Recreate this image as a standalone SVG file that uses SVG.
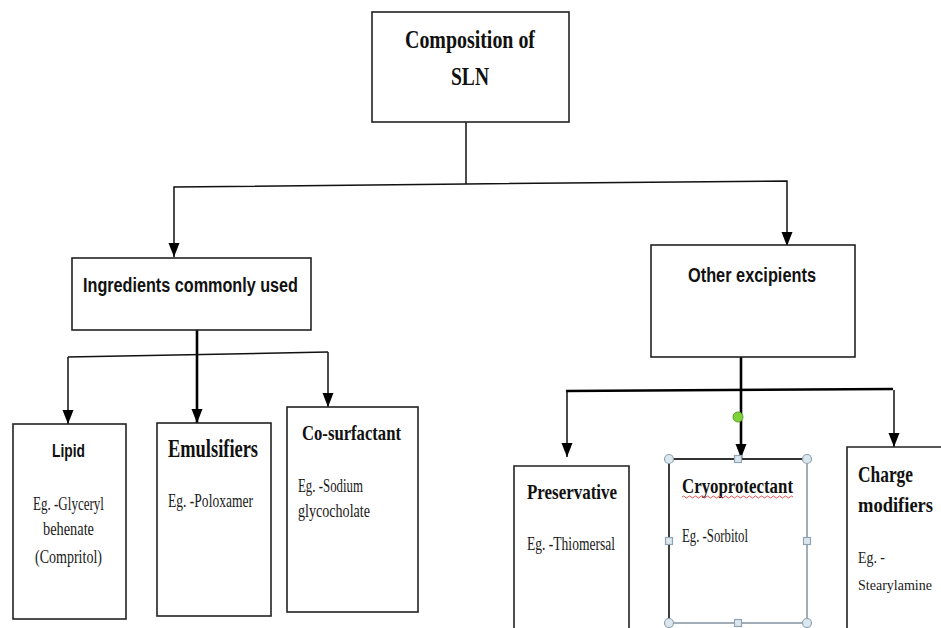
<svg xmlns="http://www.w3.org/2000/svg" width="941" height="628" viewBox="0 0 941 628">
<defs>
<marker id="arr" markerUnits="userSpaceOnUse" markerWidth="15" markerHeight="12" refX="14" refY="6" orient="auto" viewBox="0 0 15 12">
<path d="M0,0.5 L14,6 L0,11.5 z" fill="#000"/>
</marker>
<style>
.box{fill:#fff;stroke:#222;stroke-width:1.6}
.ln{fill:none;stroke:#111;stroke-width:1.5}
.thk{fill:none;stroke:#000;stroke-width:2.6}
.ser{font-family:"Liberation Serif","Times New Roman",serif;fill:#1a1a1a}
.serb{font-family:"Liberation Serif","Times New Roman",serif;font-weight:bold;fill:#111}
.sans{font-family:"Liberation Sans",Arial,sans-serif;font-weight:bold;fill:#111}
.hc{fill:#dbe7ef;stroke:#8fa3b0;stroke-width:1.2}
</style>
</defs>
<rect width="941" height="628" fill="#fff"/>

<g id="connectors">
<path class="ln" d="M466,122 L466,184"/>
<path class="ln" d="M466,184 L174,187 L174,257" marker-end="url(#arr)"/>
<path class="ln" d="M466,184 L787,181 L787,246" marker-end="url(#arr)"/>
<path class="thk" d="M197,330 L197,423" marker-end="url(#arr)"/>
<path class="ln" d="M68,357 L328,352"/>
<path class="ln" d="M68,357 L68,424" marker-end="url(#arr)"/>
<path class="ln" d="M328,352 L328,407" marker-end="url(#arr)"/>
<path class="thk" d="M741,357 L741,458" marker-end="url(#arr)"/>
<path class="thk" d="M566,391 L893,389"/>
<path class="ln" d="M567,391 L567,457" marker-end="url(#arr)"/>
<path class="ln" d="M894,390 L894,447" marker-end="url(#arr)"/>
</g>

<g id="composition">
<rect class="box" x="372" y="12" width="197" height="110"/>
<text class="serb" x="405" y="48" font-size="25" textLength="130" lengthAdjust="spacingAndGlyphs">Composition of</text>
<text class="serb" x="451" y="85" font-size="25" textLength="38" lengthAdjust="spacingAndGlyphs">SLN</text>
</g>

<g id="ingredients">
<rect class="box" x="72" y="258" width="239" height="72"/>
<text class="sans" x="83" y="292" font-size="20" textLength="215" lengthAdjust="spacingAndGlyphs">Ingredients commonly used</text>
</g>

<g id="other">
<rect class="box" x="651" y="245" width="204" height="112"/>
<text class="sans" x="688" y="282" font-size="20" textLength="128" lengthAdjust="spacingAndGlyphs">Other excipients</text>
</g>

<g id="lipid">
<rect class="box" x="13" y="424" width="113" height="195"/>
<text class="sans" x="52" y="457" font-size="19" textLength="33" lengthAdjust="spacingAndGlyphs">Lipid</text>
<text class="ser" x="33" y="510" font-size="18" textLength="71" lengthAdjust="spacingAndGlyphs">Eg. -Glyceryl</text>
<text class="ser" x="43" y="535" font-size="18" textLength="51" lengthAdjust="spacingAndGlyphs">behenate</text>
<text class="ser" x="35" y="563" font-size="18" textLength="67" lengthAdjust="spacingAndGlyphs">(Compritol)</text>
</g>

<g id="emulsifiers">
<rect class="box" x="157" y="423" width="114" height="193"/>
<text class="serb" x="168" y="457" font-size="25" textLength="90" lengthAdjust="spacingAndGlyphs">Emulsifiers</text>
<text class="ser" x="168" y="507" font-size="18" textLength="85" lengthAdjust="spacingAndGlyphs">Eg. -Poloxamer</text>
</g>

<g id="cosurfactant">
<rect class="box" x="287" y="407" width="131" height="205"/>
<text class="serb" x="302" y="440" font-size="22" textLength="99" lengthAdjust="spacingAndGlyphs">Co-surfactant</text>
<text class="ser" x="298" y="492" font-size="18" textLength="65" lengthAdjust="spacingAndGlyphs">Eg. -Sodium</text>
<text class="ser" x="298" y="517" font-size="18" textLength="72" lengthAdjust="spacingAndGlyphs">glycocholate</text>
</g>

<g id="preservative">
<path class="box" d="M514,630 L514,466 L629,466 L629,630"/>
<text class="serb" x="527" y="499" font-size="22" textLength="90" lengthAdjust="spacingAndGlyphs">Preservative</text>
<text class="ser" x="527" y="550" font-size="18" textLength="88" lengthAdjust="spacingAndGlyphs">Eg. -Thiomersal</text>
</g>

<g id="cryoprotectant">
<rect x="669" y="459" width="138" height="164" fill="#fff" stroke="#8a9aa6" stroke-width="1.6"/>
<path d="M669,459 L807,459 M669,459 L669,623" fill="none" stroke="#333" stroke-width="1.8"/>
<text class="serb" x="682" y="493" font-size="22" textLength="111" lengthAdjust="spacingAndGlyphs">Cryoprotectant</text>
<path d="M682,497 q1.5,-2 3,0 t3,0 t3,0 t3,0 t3,0 t3,0 t3,0 t3,0 t3,0 t3,0 t3,0 t3,0 t3,0 t3,0 t3,0 t3,0 t3,0 t3,0 t3,0 t3,0 t3,0 t3,0 t3,0 t3,0 t3,0 t3,0 t3,0 t3,0 t3,0 t3,0 t3,0 t3,0 t3,0 t3,0 t3,0 t3,0 t3,0" fill="none" stroke="#e04040" stroke-width="0.9"/>
<text class="ser" x="682" y="542" font-size="18" textLength="66" lengthAdjust="spacingAndGlyphs">Eg. -Sorbitol</text>
<circle class="hc" cx="669" cy="459" r="4.5"/>
<circle class="hc" cx="807" cy="459" r="4.5"/>
<circle class="hc" cx="669" cy="623" r="4.5"/>
<circle class="hc" cx="807" cy="623" r="4.5"/>
<rect class="hc" x="734.5" y="455.5" width="7" height="7"/>
<rect class="hc" x="734.5" y="619.5" width="7" height="7"/>
<rect class="hc" x="665.5" y="537.5" width="7" height="7"/>
<rect class="hc" x="803.5" y="537.5" width="7" height="7"/>
<circle cx="738" cy="417" r="5" fill="#7fd23a" stroke="#5aa52a" stroke-width="1"/>
</g>

<g id="charge">
<path class="box" d="M847,630 L847,447 L941,447"/>
<text class="serb" x="858" y="482" font-size="23" textLength="55" lengthAdjust="spacingAndGlyphs">Charge</text>
<text class="serb" x="858" y="512" font-size="20" textLength="75" lengthAdjust="spacingAndGlyphs">modifiers</text>
<text class="ser" x="858" y="563" font-size="17" textLength="27" lengthAdjust="spacingAndGlyphs">Eg. -</text>
<text class="ser" x="858" y="590" font-size="15.5" textLength="74" lengthAdjust="spacingAndGlyphs">Stearylamine</text>
</g>
</svg>
